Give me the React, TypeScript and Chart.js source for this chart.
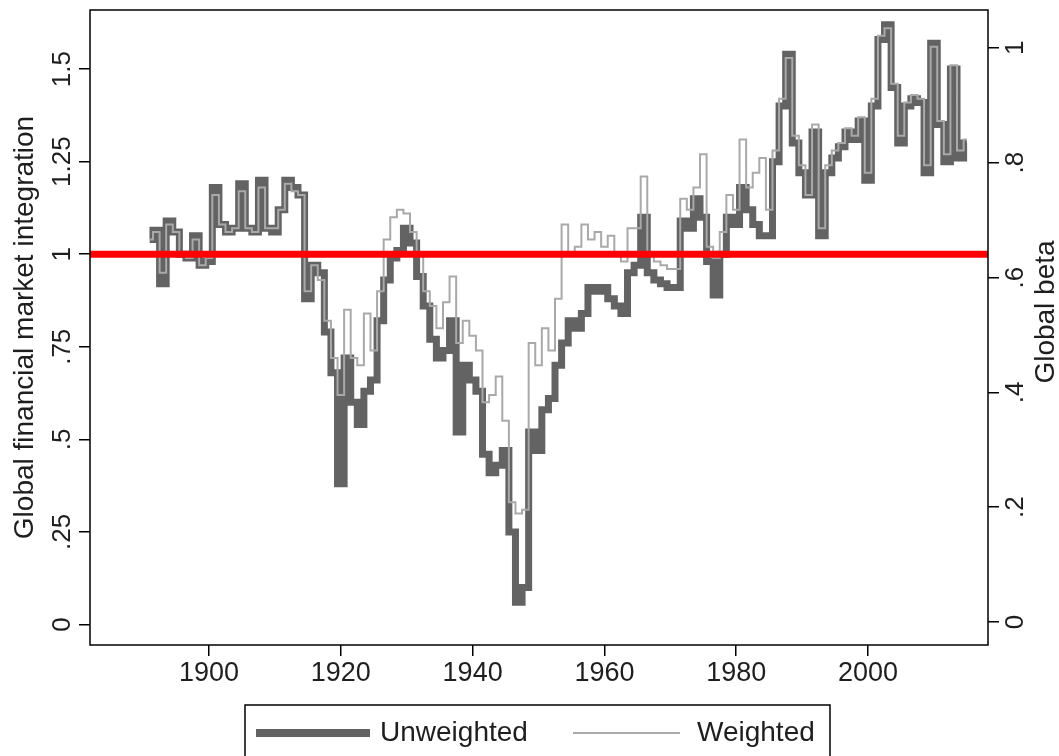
import React, { useEffect, useRef } from "react";
import { Chart, registerables } from "chart.js";

Chart.register(...registerables);

// ---- data ----
const FIRST_YEAR = 1891;

const UNWEIGHTED = [
  1.04, 1.065, 0.92, 1.09, 1.06, 1.0, 0.99, 1.05, 0.97, 0.98, // 1891-1900
  1.18, 1.08, 1.06, 1.07, 1.19, 1.07, 1.06, 1.2, 1.07, 1.06, // 1901-1910
  1.12, 1.2, 1.18, 1.16, 0.88, 0.97, 0.95, 0.79, 0.68, 0.38, // 1911-1920
  0.72, 0.6, 0.54, 0.63, 0.66, 0.82, 0.93, 0.99, 1.01, 1.07, // 1921-1930
  1.03, 0.94, 0.86, 0.77, 0.72, 0.74, 0.82, 0.52, 0.7, 0.66, // 1931-1940
  0.63, 0.46, 0.41, 0.43, 0.47, 0.25, 0.06, 0.1, 0.52, 0.47, // 1941-1950
  0.58, 0.61, 0.7, 0.76, 0.82, 0.8, 0.84, 0.91, 0.9, 0.91, // 1951-1960
  0.88, 0.86, 0.84, 0.95, 0.97, 1.1, 0.95, 0.93, 0.92, 0.91, // 1961-1970
  0.91, 1.09, 1.07, 1.15, 1.1, 0.98, 0.89, 1.0, 1.1, 1.08, // 1971-1980
  1.18, 1.12, 1.08, 1.05, 1.05, 1.25, 1.4, 1.54, 1.3, 1.22, // 1981-1990
  1.16, 1.33, 1.05, 1.22, 1.26, 1.29, 1.33, 1.31, 1.36, 1.2, // 1991-2000
  1.4, 1.58, 1.62, 1.45, 1.3, 1.4, 1.42, 1.41, 1.22, 1.57, // 2001-2010
  1.35, 1.25, 1.5, 1.26, 1.3, // 2011-2015
];

const WEIGHTED = [
  1.04, 1.06, 0.95, 1.08, 1.06, 1.0, 0.99, 1.04, 0.97, 0.99, // 1891-1900
  1.16, 1.08, 1.06, 1.07, 1.17, 1.07, 1.06, 1.18, 1.07, 1.07, // 1901-1910
  1.12, 1.19, 1.17, 1.16, 0.9, 0.97, 0.93, 0.82, 0.72, 0.62, // 1911-1920
  0.85, 0.72, 0.7, 0.84, 0.74, 0.9, 1.04, 1.1, 1.12, 1.11, // 1921-1930
  1.06, 1.0, 0.9, 0.86, 0.8, 0.87, 0.94, 0.76, 0.82, 0.78, // 1931-1940
  0.74, 0.6, 0.62, 0.67, 0.55, 0.33, 0.3, 0.31, 0.76, 0.7, // 1941-1950
  0.8, 0.74, 0.88, 1.08, 1.0, 1.02, 1.08, 1.04, 1.06, 1.02, // 1951-1960
  1.05, 1.0, 0.98, 1.07, 1.07, 1.21, 1.0, 0.98, 0.97, 0.96, // 1961-1970
  0.96, 1.15, 1.12, 1.18, 1.27, 1.02, 0.99, 1.06, 1.16, 1.12, // 1971-1980
  1.31, 1.18, 1.22, 1.26, 1.12, 1.28, 1.42, 1.53, 1.32, 1.24, // 1981-1990
  1.16, 1.35, 1.07, 1.24, 1.28, 1.3, 1.34, 1.32, 1.37, 1.22, // 1991-2000
  1.42, 1.59, 1.61, 1.46, 1.32, 1.41, 1.43, 1.42, 1.24, 1.56, // 2001-2010
  1.36, 1.27, 1.51, 1.28, 1.31, // 2011-2015
];

const YEARS = UNWEIGHTED.map((_, i) => FIRST_YEAR + i);

const REFERENCE_LEVEL = 1;

const X_TICKS = [1900, 1920, 1940, 1960, 1980, 2000];
const LEFT_TICKS = [0, 0.25, 0.5, 0.75, 1, 1.25, 1.5];
const RIGHT_TICKS = [0, 0.2, 0.4, 0.6, 0.8, 1];

const SERIES_LABELS = ["Unweighted", "Weighted"];
const LEFT_TITLE = "Global financial market integration";
const RIGHT_TITLE = "Global beta";

// ---- styling ----
const X_MIN = 1881.94;
const X_MAX = 2018.2;
const Y_MIN = -0.0554;
const Y_MAX = 1.6595;
const Y2_MIN = -0.04;
const Y2_MAX = 1.066;

const FONT = "'Liberation Sans', Arial, sans-serif";
const TEXT = "#1e1e1e";
const DARK = "#636363";
const LIGHT = "#a9a9a9";
const RED = "#ff0000";

const stataFmt = (v: number) => {
  if (v === 0) return "0";
  const s = String(Math.round(v * 1000) / 1000);
  return s.replace(/^0\./, ".");
};

const decorPlugin = {
  id: "decor",
  afterDraw(chart: any) {
    const { ctx, chartArea: a } = chart;
    ctx.save();
    // frame
    ctx.strokeStyle = "#000";
    ctx.lineWidth = 1.5;
    ctx.strokeRect(a.left, a.top, a.right - a.left, a.bottom - a.top);

    // axis titles
    ctx.fillStyle = TEXT;
    ctx.font = `28px ${FONT}`;
    ctx.textAlign = "center";
    ctx.textBaseline = "middle";
    ctx.save();
    ctx.translate(25, (a.top + a.bottom) / 2);
    ctx.rotate(-Math.PI / 2);
    ctx.fillText(LEFT_TITLE, 0, 0);
    ctx.restore();
    ctx.save();
    ctx.translate(1046, 312);
    ctx.rotate(-Math.PI / 2);
    ctx.fillText(RIGHT_TITLE, 0, 0);
    ctx.restore();

    // legend
    const ds = chart.data.datasets;
    const ly = 733;
    ctx.strokeStyle = "#000";
    ctx.lineWidth = 1.5;
    ctx.strokeRect(245, 705, 585, 70);
    ctx.lineCap = "butt";
    ctx.strokeStyle = ds[0].borderColor;
    ctx.lineWidth = 8;
    ctx.beginPath();
    ctx.moveTo(256, ly);
    ctx.lineTo(370, ly);
    ctx.stroke();
    ctx.strokeStyle = ds[1].borderColor;
    ctx.lineWidth = 2;
    ctx.beginPath();
    ctx.moveTo(573, ly);
    ctx.lineTo(680, ly);
    ctx.stroke();
    ctx.fillStyle = TEXT;
    ctx.font = `28px ${FONT}`;
    ctx.textAlign = "left";
    ctx.textBaseline = "middle";
    ctx.fillText(ds[0].label, 380, ly);
    ctx.fillText(ds[1].label, 697, ly);
    ctx.restore();
  },
};

const tickGrid = {
  drawOnChartArea: false,
  drawTicks: true,
  tickLength: 11,
  color: "#000",
  lineWidth: 1.5,
};

export default function App() {
  const ref = useRef<HTMLCanvasElement | null>(null);

  useEffect(() => {
    if (!ref.current) return;
    const chart = new Chart(ref.current, {
      type: "line",
      data: {
        datasets: [
          {
            label: SERIES_LABELS[0],
            data: YEARS.map((x, i) => ({ x, y: UNWEIGHTED[i] })),
            borderColor: DARK,
            borderWidth: 7,
            stepped: "middle",
            pointRadius: 0,
            order: 3,
            yAxisID: "y",
          },
          {
            label: SERIES_LABELS[1],
            data: YEARS.map((x, i) => ({ x, y: WEIGHTED[i] })),
            borderColor: LIGHT,
            borderWidth: 2,
            stepped: "middle",
            pointRadius: 0,
            order: 2,
            yAxisID: "y",
          },
          {
            label: "reference",
            data: [
              { x: X_MIN, y: REFERENCE_LEVEL },
              { x: X_MAX, y: REFERENCE_LEVEL },
            ],
            borderColor: RED,
            borderWidth: 7,
            pointRadius: 0,
            order: 1,
            yAxisID: "y",
          },
        ],
      },
      options: {
        animation: false,
        responsive: false,
        devicePixelRatio: 1,
        layout: { padding: { top: 10, bottom: 61, left: 0, right: 0 } },
        plugins: {
          legend: { display: false },
          tooltip: { enabled: false },
        },
        scales: {
          x: {
            type: "linear",
            position: "bottom",
            min: X_MIN,
            max: X_MAX,
            afterBuildTicks: (s: any) => {
              s.ticks = X_TICKS.map((v) => ({ value: v }));
            },
            afterFit: (s: any) => {
              s.height = 50;
              s.paddingLeft = 0;
              s.paddingRight = 0;
            },
            ticks: {
              autoSkip: false,
              maxRotation: 0,
              minRotation: 0,
              padding: 1,
              color: TEXT,
              font: { family: FONT, size: 27 },
              callback: (v: any) => String(v),
            },
            grid: tickGrid,
            border: { display: false },
          },
          y: {
            type: "linear",
            position: "left",
            min: Y_MIN,
            max: Y_MAX,
            afterBuildTicks: (s: any) => {
              s.ticks = LEFT_TICKS.map((v) => ({ value: v }));
            },
            afterFit: (s: any) => {
              s.width = 90;
              s.paddingTop = 0;
              s.paddingBottom = 0;
            },
            ticks: {
              autoSkip: false,
              minRotation: 90,
              maxRotation: 90,
              crossAlign: "center",
              padding: -9,
              color: TEXT,
              font: { family: FONT, size: 26 },
              callback: (v: any) => stataFmt(Number(v)),
            },
            grid: tickGrid,
            border: { display: false },
          },
          y2: {
            type: "linear",
            position: "right",
            min: Y2_MIN,
            max: Y2_MAX,
            afterBuildTicks: (s: any) => {
              s.ticks = RIGHT_TICKS.map((v) => ({ value: v }));
            },
            afterFit: (s: any) => {
              s.width = 71;
              s.paddingTop = 0;
              s.paddingBottom = 0;
            },
            ticks: {
              autoSkip: false,
              minRotation: 90,
              maxRotation: 90,
              crossAlign: "center",
              padding: 6,
              color: TEXT,
              font: { family: FONT, size: 26 },
              callback: (v: any) => stataFmt(Number(v)),
            },
            grid: tickGrid,
            border: { display: false },
          },
        },
      } as any,
      plugins: [decorPlugin],
    });
    return () => chart.destroy();
  }, []);

  return (
    <div style={{ position: "fixed", left: 0, top: 0, width: 1059, height: 756, background: "#fff" }}>
      <canvas ref={ref} width={1059} height={756} style={{ width: 1059, height: 756, display: "block" }} />
    </div>
  );
}
